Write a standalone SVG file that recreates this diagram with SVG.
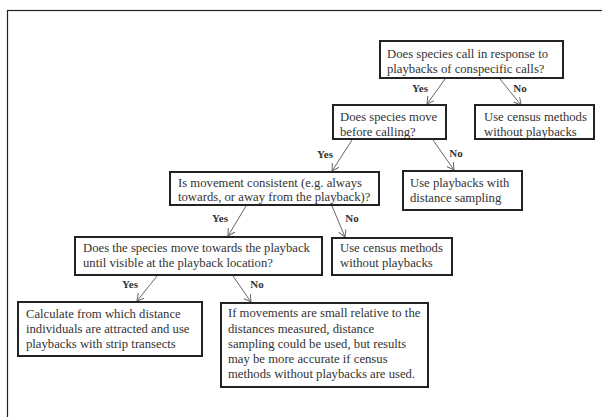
<svg xmlns="http://www.w3.org/2000/svg" width="602" height="417" viewBox="0 0 602 417">
<style>
.box{fill:#fff;stroke:#222;stroke-width:2}
.t{font-family:"Liberation Serif","Times New Roman",serif;font-size:12.7px;fill:#333}
.lbl{font-family:"Liberation Serif","Times New Roman",serif;font-size:11px;font-weight:bold;fill:#333;text-anchor:middle}
.c{stroke:#666;stroke-width:1;fill:none;marker-end:url(#ah)}
</style>
<defs>
<marker id="ah" markerUnits="userSpaceOnUse" markerWidth="10" markerHeight="10" refX="7" refY="4" orient="auto">
<path d="M0,0 L7,4 L0,8" fill="none" stroke="#666" stroke-width="1"/>
</marker>
</defs>
<rect width="602" height="417" fill="#fff"/>
<rect x="7.5" y="10.5" width="700" height="500" fill="none" stroke="#222" stroke-width="1.2"/>
<g id="connectors">
<line class="c" x1="445" y1="79" x2="427" y2="104"/>
<line class="c" x1="500" y1="79" x2="521" y2="105"/>
<line class="c" x1="352" y1="140" x2="332" y2="171"/>
<line class="c" x1="433" y1="140" x2="454" y2="170"/>
<line class="c" x1="246" y1="206" x2="228" y2="236"/>
<line class="c" x1="332" y1="206" x2="345" y2="237"/>
<line class="c" x1="157" y1="276" x2="137" y2="301"/>
<line class="c" x1="233" y1="276" x2="251" y2="302"/>
<text class="lbl" x="420" y="92">Yes</text>
<text class="lbl" x="520" y="92">No</text>
<text class="lbl" x="325" y="158">Yes</text>
<text class="lbl" x="456" y="157">No</text>
<text class="lbl" x="220" y="222">Yes</text>
<text class="lbl" x="352" y="222">No</text>
<text class="lbl" x="130" y="288">Yes</text>
<text class="lbl" x="257" y="288">No</text>
</g>
<g id="q1">
<rect class="box" x="380" y="41" width="183" height="37"/>
<text class="t" x="387" y="58">Does species call in response to</text>
<text class="t" x="387" y="73">playbacks of conspecific calls?</text>
</g>
<g id="q2">
<rect class="box" x="333" y="105" width="113" height="34"/>
<text class="t" x="340" y="121">Does species move</text>
<text class="t" x="340" y="136">before calling?</text>
</g>
<g id="census1">
<rect class="box" x="475" y="105" width="119" height="34"/>
<text class="t" x="484" y="121">Use census methods</text>
<text class="t" x="484" y="136">without playbacks</text>
</g>
<g id="distance">
<rect class="box" x="403" y="171" width="119" height="39"/>
<text class="t" x="410" y="187">Use playbacks with</text>
<text class="t" x="410" y="202">distance sampling</text>
</g>
<g id="q3">
<rect class="box" x="170" y="172" width="209" height="33"/>
<text class="t" x="178" y="187">Is movement consistent (e.g. always</text>
<text class="t" x="178" y="201">towards, or away from the playback)?</text>
</g>
<g id="census2">
<rect class="box" x="332" y="238" width="120" height="37"/>
<text class="t" x="340" y="252">Use census methods</text>
<text class="t" x="340" y="267">without playbacks</text>
</g>
<g id="q4">
<rect class="box" x="75" y="237" width="247" height="38"/>
<text class="t" x="83" y="252">Does the species move towards the playback</text>
<text class="t" x="83" y="267">until visible at the playback location?</text>
</g>
<g id="strip">
<rect class="box" x="18" y="302" width="184" height="54"/>
<text class="t" x="26" y="318">Calculate from which distance</text>
<text class="t" x="26" y="333">individuals are attracted and use</text>
<text class="t" x="26" y="348">playbacks with strip transects</text>
</g>
<g id="small">
<rect class="box" x="221" y="303" width="207" height="84"/>
<text class="t" x="228" y="317">If movements are small relative to the</text>
<text class="t" x="228" y="333">distances measured, distance</text>
<text class="t" x="228" y="348">sampling could be used, but results</text>
<text class="t" x="228" y="363">may be more accurate if census</text>
<text class="t" x="228" y="378">methods without playbacks are used.</text>
</g>
</svg>
